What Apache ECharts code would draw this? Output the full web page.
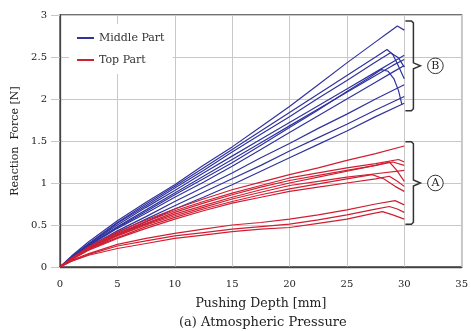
<!DOCTYPE html>
<html>
<head>
<meta charset="utf-8">
<script src="https://cdn.jsdelivr.net/npm/echarts@6/dist/echarts.min.js"></script>
<style>
  html, body { margin: 0; padding: 0; background: #fff; }
  #chart { width: 471px; height: 331px; }
</style>
</head>
<body>
<div id="chart"></div>
<script>
// pushing depth [mm], reaction force [N] as [x, y] pairs, one list per specimen
const middlePart = [
  [[0,0],[1,0.13],[2.5,0.30],[5,0.55],[7.5,0.77],[10,0.98],[12.5,1.21],[15,1.43],[17.5,1.67],[20,1.91],[22.5,2.17],[25,2.43],[27.5,2.68],[28.5,2.78],[29.4,2.87],[30,2.82]],
  [[0,0],[1,0.12],[2.5,0.28],[5,0.53],[7.5,0.75],[10,0.96],[12.5,1.18],[15,1.40],[17.5,1.62],[20,1.84],[22.5,2.06],[25,2.28],[27.5,2.50],[28.5,2.59],[29,2.53],[29.4,2.42],[30,2.24]],
  [[0,0],[1,0.12],[2.5,0.27],[5,0.52],[7.5,0.73],[10,0.94],[12.5,1.15],[15,1.37],[17.5,1.58],[20,1.79],[22.5,2.01],[25,2.22],[27.5,2.44],[28.8,2.55],[29.5,2.49],[30,2.38]],
  [[0,0],[1,0.11],[2.5,0.27],[5,0.50],[7.5,0.71],[10,0.91],[12.5,1.12],[15,1.32],[17.5,1.52],[20,1.72],[22.5,1.92],[25,2.12],[27.5,2.32],[29,2.44],[30,2.52]],
  [[0,0],[1,0.11],[2.5,0.26],[5,0.48],[7.5,0.68],[10,0.88],[12.5,1.08],[15,1.28],[17.5,1.48],[20,1.68],[22.5,1.88],[25,2.08],[27.5,2.28],[29,2.40],[30,2.47]],
  [[0,0],[1,0.11],[2.5,0.26],[5,0.47],[7.5,0.66],[10,0.86],[12.5,1.05],[15,1.24],[17.5,1.45],[20,1.66],[22.5,1.87],[25,2.09],[27,2.26],[28,2.35],[28.6,2.33],[29.1,2.24],[29.5,2.10],[29.8,1.93]],
  [[0,0],[1,0.10],[2.5,0.25],[5,0.46],[7.5,0.64],[10,0.83],[12.5,1.01],[15,1.20],[17.5,1.40],[20,1.60],[22.5,1.80],[25,2.00],[27.5,2.20],[29,2.32],[30,2.40]],
  [[0,0],[1,0.10],[2.5,0.24],[5,0.43],[7.5,0.60],[10,0.78],[12.5,0.95],[15,1.12],[17.5,1.30],[20,1.47],[22.5,1.65],[25,1.82],[27.5,2.00],[30,2.17]],
  [[0,0],[1,0.09],[2.5,0.23],[5,0.41],[7.5,0.57],[10,0.73],[12.5,0.89],[15,1.05],[17.5,1.21],[20,1.38],[22.5,1.54],[25,1.70],[27.5,1.87],[30,2.03]],
  [[0,0],[1,0.09],[2.5,0.22],[5,0.38],[7.5,0.54],[10,0.69],[12.5,0.83],[15,0.98],[17.5,1.14],[20,1.30],[22.5,1.46],[25,1.62],[27.5,1.79],[30,1.95]]
];

const topPart = [
  [[0,0],[1,0.10],[2.5,0.24],[5,0.42],[7.5,0.56],[10,0.69],[12.5,0.81],[15,0.92],[17.5,1.01],[20,1.10],[22.5,1.18],[25,1.27],[27.5,1.35],[30,1.44]],
  [[0,0],[1,0.10],[2.5,0.23],[5,0.40],[7.5,0.54],[10,0.67],[12.5,0.78],[15,0.88],[17.5,0.97],[20,1.06],[22.5,1.12],[25,1.18],[27.5,1.23],[29.5,1.28],[30,1.25]],
  [[0,0],[1,0.10],[2.5,0.22],[5,0.39],[7.5,0.52],[10,0.65],[12.5,0.76],[15,0.86],[17.5,0.95],[20,1.03],[22.5,1.09],[25,1.15],[27.5,1.21],[29,1.25],[30,1.21]],
  [[0,0],[1,0.10],[2.5,0.22],[5,0.38],[7.5,0.51],[10,0.63],[12.5,0.73],[15,0.83],[17.5,0.92],[20,1.00],[22.5,1.07],[25,1.14],[27.5,1.21],[28.7,1.25],[29.3,1.16],[30,1.02]],
  [[0,0],[1,0.09],[2.5,0.21],[5,0.37],[7.5,0.50],[10,0.61],[12.5,0.71],[15,0.81],[17.5,0.89],[20,0.97],[22.5,1.02],[25,1.07],[27.5,1.11],[30,1.15]],
  [[0,0],[1,0.09],[2.5,0.21],[5,0.35],[7.5,0.48],[10,0.59],[12.5,0.69],[15,0.78],[17.5,0.86],[20,0.93],[22.5,0.99],[25,1.05],[27.2,1.10],[28.2,1.05],[29.2,0.96],[30,0.90]],
  [[0,0],[1,0.09],[2.5,0.20],[5,0.34],[7.5,0.46],[10,0.57],[12.5,0.67],[15,0.76],[17.5,0.83],[20,0.90],[22.5,0.95],[25,1.00],[27.5,1.05],[28.7,1.08],[29.4,1.02],[30,0.96]],
  [[0,0],[1,0.08],[2.5,0.16],[5,0.27],[7.5,0.34],[10,0.40],[12.5,0.45],[15,0.50],[17.5,0.53],[20,0.57],[22.5,0.62],[25,0.68],[27.5,0.75],[29.2,0.79],[30,0.74]],
  [[0,0],[1,0.07],[2.5,0.15],[5,0.25],[7.5,0.31],[10,0.37],[12.5,0.41],[15,0.45],[17.5,0.48],[20,0.51],[22.5,0.56],[25,0.62],[27.5,0.69],[28.7,0.72],[29.4,0.69],[30,0.65]],
  [[0,0],[1,0.07],[2.5,0.14],[5,0.22],[7.5,0.28],[10,0.34],[12.5,0.38],[15,0.42],[17.5,0.45],[20,0.47],[22.5,0.52],[25,0.57],[27,0.63],[28.1,0.66],[29,0.62],[30,0.57]]
];

// brace groups: [label, top force, bottom force]
const groups = [['B', 2.93, 1.86], ['A', 1.49, 0.51]];

const blue = '#30339c';
const red = '#cf1f33';
const font = 'DejaVu Serif';

const chart = echarts.init(document.getElementById('chart'));

const makeSeries = (curves, name, color) => curves.map(d => ({
  name, type: 'line', data: d, symbol: 'none', silent: true,
  lineStyle: { color, width: 1.2 }, itemStyle: { color }
}));

chart.setOption({
  animation: false,
  grid: { left: 60, top: 15, right: 8, bottom: 64, show: true, borderColor: '#444', borderWidth: 1.3 },
  title: {
    text: '(a) Atmospheric Pressure', left: 174, top: 311,
    textStyle: { fontFamily: font, fontSize: 13, fontWeight: 'normal', color: '#222' }
  },
  legend: {
    data: ['Middle Part', 'Top Part'], orient: 'vertical', left: 69, top: 24,
    icon: 'rect', itemWidth: 17, itemHeight: 2, itemGap: 8, padding: [7, 8, 7, 8],
    backgroundColor: '#fff',
    textStyle: { fontFamily: font, fontSize: 11, color: '#333', lineHeight: 14 }
  },
  xAxis: {
    type: 'value', min: 0, max: 35, interval: 5,
    name: 'Pushing Depth [mm]', nameLocation: 'middle', nameGap: 30,
    nameTextStyle: { fontFamily: font, fontSize: 12.5, color: '#222' },
    axisLine: { lineStyle: { color: '#444', width: 1.3 } },
    axisTick: { show: false },
    axisLabel: { fontFamily: font, fontSize: 10, color: '#222', margin: 12 },
    splitLine: { lineStyle: { color: '#c8c8c8', width: 1 } }
  },
  yAxis: {
    type: 'value', min: 0, max: 3, interval: 0.5,
    name: 'Reaction  Force [N]', nameLocation: 'middle', nameGap: 32,
    nameTextStyle: { fontFamily: font, fontSize: 11, color: '#222' },
    axisLine: { show: true, lineStyle: { color: '#444', width: 1.3 } },
    axisTick: { show: true, inside: false, length: 9, lineStyle: { color: '#c8c8c8' } },
    axisLabel: { fontFamily: font, fontSize: 10, color: '#222', margin: 13 },
    splitLine: { lineStyle: { color: '#c8c8c8', width: 1 } }
  },
  series: [...makeSeries(middlePart, 'Middle Part', blue), ...makeSeries(topPart, 'Top Part', red)]
});

// braces with circled letters on the right of the plot
const px = (x, y) => chart.convertToPixel({ gridIndex: 0 }, [x, y]);
const elements = [];
groups.forEach(([label, top, bottom]) => {
  const [x0, yt] = px(30.1, top);
  const [, yb] = px(30.1, bottom);
  const xv = x0 + 8, xt = xv + 7, ym = (yt + yb) / 2;
  elements.push({
    type: 'polyline', silent: true,
    shape: { points: [[x0, yt], [xv - 2, yt], [xv, yt + 2], [xv, ym - 3], [xt, ym], [xv, ym + 3], [xv, yb - 2], [xv - 2, yb], [x0, yb]] },
    style: { stroke: '#333', lineWidth: 1.5, fill: null }
  });
  elements.push({
    type: 'circle', silent: true,
    shape: { cx: xt + 15, cy: ym, r: 7.8 },
    style: { stroke: '#333', lineWidth: 1, fill: '#fff' }
  });
  elements.push({
    type: 'text', silent: true, x: xt + 15, y: ym,
    style: { text: label, fontFamily: font, fontSize: 11, fill: '#222', align: 'center', verticalAlign: 'middle' }
  });
});
chart.setOption({ graphic: elements });
</script>
</body>
</html>
